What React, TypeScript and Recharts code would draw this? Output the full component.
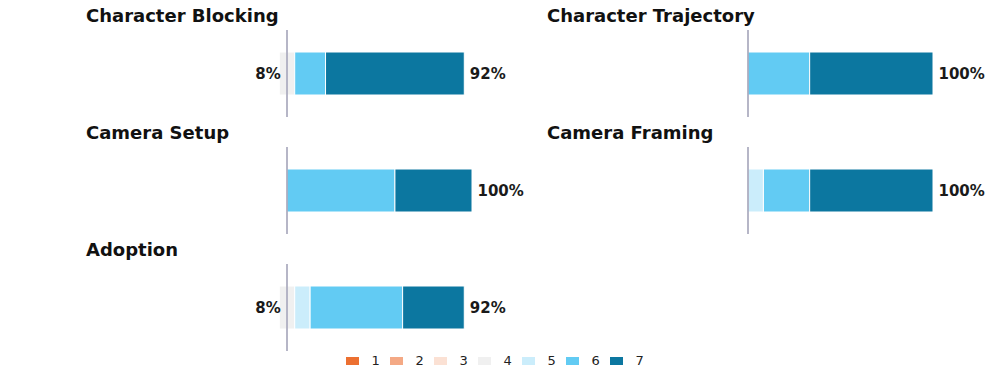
import React from 'react';
import { BarChart, Bar, XAxis, YAxis, ReferenceLine, LabelList } from 'recharts';

// survey items, one panel each
const categories = [
  'Character Blocking',
  'Character Trajectory',
  'Camera Setup',
  'Camera Framing',
  'Adoption',
];

// share of answers (%) per Likert level, same order as categories
const level1 = [0, 0, 0, 0, 0];
const level2 = [0, 0, 0, 0, 0];
const level3 = [0, 0, 0, 0, 0];
const level4 = [8.33, 0, 0, 0, 8.33];
const level5 = [0, 0, 0, 8.33, 8.33];
const level6 = [16.67, 33.33, 58.33, 25, 50];
const level7 = [75, 66.67, 41.67, 66.67, 33.33];

const LEVELS = ['1', '2', '3', '4', '5', '6', '7'];
const COLORS = ['#ec7031', '#f4a985', '#fbe1d4', '#f0f0f0', '#cbedfb', '#62cbf3', '#0c77a0'];

// [column, row] of each panel
const SLOTS = [
  [0, 0],
  [1, 0],
  [0, 1],
  [1, 1],
  [0, 2],
];

const NEG_KEYS = ['n4', 'n3', 'n2', 'n1'];
const POS_KEYS = ['p4', 'p5', 'p6', 'p7'];
const SERIES = [
  { key: 'n4', color: COLORS[3] },
  { key: 'n3', color: COLORS[2] },
  { key: 'n2', color: COLORS[1] },
  { key: 'n1', color: COLORS[0] },
  { key: 'p4', color: COLORS[3] },
  { key: 'p5', color: COLORS[4] },
  { key: 'p6', color: COLORS[5] },
  { key: 'p7', color: COLORS[6] },
];

const FONT = '"DejaVu Sans", sans-serif';
const HALF = 185; // px for 100%
const CENTERS = [287, 748];
const ROW_STEP = 117;

const rows = categories.map((name, i) => ({
  name,
  n4: -level4[i] / 2,
  n3: -level3[i],
  n2: -level2[i],
  n1: -level1[i],
  p4: level4[i] / 2,
  p5: level5[i],
  p6: level6[i],
  p7: level7[i],
  negTotal: level1[i] + level2[i] + level3[i] + level4[i],
  posTotal: level5[i] + level6[i] + level7[i],
}));

// label at the outer end of each side of the bar
const makeEdgeLabel = (row: any, key: string, side: 'neg' | 'pos') => (props: any) => {
  const keys = side === 'neg' ? NEG_KEYS : POS_KEYS;
  const last = keys.filter((k) => row[k] !== 0).pop();
  if (last !== key) return null;
  const vb = props.viewBox ?? props;
  const x0 = Math.min(vb.x, vb.x + vb.width);
  const x1 = Math.max(vb.x, vb.x + vb.width);
  const cy = vb.y + vb.height / 2;
  const total = side === 'neg' ? row.negTotal : row.posTotal;
  return (
    <text
      x={side === 'neg' ? x0 + 1.5 : x1 + 5.5}
      y={cy}
      textAnchor={side === 'neg' ? 'end' : 'start'}
      dominantBaseline="central"
      fontFamily={FONT}
      fontWeight="bold"
      fontSize={15}
      fill="#1a1a1a"
    >
      {`${Math.round(total)}%`}
    </text>
  );
};

const Panel = ({ index }: { index: number }) => {
  const row = rows[index];
  const [col, r] = SLOTS[index];
  const center = CENTERS[col];
  const rightMargin = col === 0 ? 70 : 60;
  return (
    <>
      <div
        style={{
          position: 'absolute',
          left: center - 201,
          top: 7 + r * ROW_STEP,
          fontFamily: FONT,
          fontWeight: 'bold',
          fontSize: 18,
          lineHeight: '18px',
          color: '#111',
          whiteSpace: 'nowrap',
        }}
      >
        {row.name}
      </div>
      <div style={{ position: 'absolute', left: center - HALF, top: 30 + r * ROW_STEP }}>
        <BarChart
          width={HALF * 2 + rightMargin}
          height={87}
          data={[row]}
          layout="vertical"
          stackOffset="sign"
          barSize={43}
          margin={{ top: 0, right: rightMargin, bottom: 0, left: 0 }}
        >
          <XAxis type="number" domain={[-100, 100]} hide />
          <YAxis type="category" dataKey="name" hide />
          {SERIES.map((s) => (
            <Bar
              key={s.key}
              dataKey={s.key}
              stackId="a"
              fill={s.color}
              stroke="#ffffff"
              strokeWidth={1}
              isAnimationActive={false}
            >
              {s.key.startsWith('n') && (
                <LabelList content={makeEdgeLabel(row, s.key, 'neg')} />
              )}
              {s.key.startsWith('p') && (
                <LabelList content={makeEdgeLabel(row, s.key, 'pos')} />
              )}
            </Bar>
          ))}
          <ReferenceLine x={0} stroke="#9e9eb4" strokeWidth={1.5} />
        </BarChart>
      </div>
    </>
  );
};

export default function App() {
  return (
    <div
      style={{
        position: 'absolute',
        left: 0,
        top: 0,
        width: 996,
        height: 382,
        overflow: 'hidden',
        background: '#fff',
      }}
    >
      {categories.map((c, i) => (
        <Panel key={c} index={i} />
      ))}
      <div style={{ position: 'absolute', left: 346, top: 356, display: 'flex' }}>
        {LEVELS.map((l, i) => (
          <div key={l} style={{ width: 44, height: 10, display: 'flex', alignItems: 'center' }}>
            <span style={{ width: 13, height: 8, background: COLORS[i], marginRight: 12.5 }} />
            <span style={{ fontFamily: FONT, fontSize: 13, color: '#222', lineHeight: '10px' }}>
              {l}
            </span>
          </div>
        ))}
      </div>
    </div>
  );
}
